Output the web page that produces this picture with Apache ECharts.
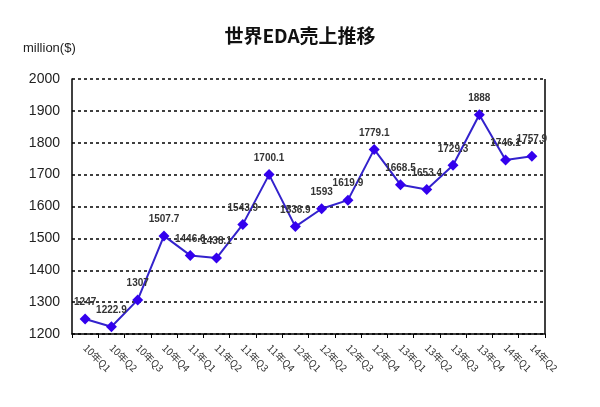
<!DOCTYPE html>
<html><head><meta charset="utf-8">
<script src="https://cdn.jsdelivr.net/npm/echarts@6/dist/echarts.min.js"></script>
<style>html,body{margin:0;padding:0;background:#fff}#c{width:600px;height:407px}</style>
</head><body><div id="c"></div>
<script>
const categories = ['10年Q1','10年Q2','10年Q3','10年Q4','11年Q1','11年Q2','11年Q3','11年Q4','12年Q1','12年Q2','12年Q3','12年Q4','13年Q1','13年Q2','13年Q3','13年Q4','14年Q1','14年Q2'];
const values = [1247,1222.9,1307,1507.7,1446.6,1438.1,1543.9,1700.1,1536.9,1593,1619.9,1779.1,1668.5,1653.4,1729.3,1888,1746.1,1757.9];
const yTicks = {min:1200, max:2000, interval:100};

const chart = echarts.init(document.getElementById('c'));
chart.setOption({
  animation:false,
  backgroundColor:'#fff',
  title:{text:'世界EDA売上推移', left:'center', top:21,
    textStyle:{fontSize:19, fontWeight:'bold', color:'#111', fontFamily:'Noto Sans CJK JP'}},
  graphic:[
    {type:'text', left:23, top:42, style:{text:'million($)', fontSize:13, fill:'#222', fontFamily:'Liberation Sans'}},
    {type:'line', shape:{x1:545, y1:79, x2:545, y2:334}, style:{stroke:'#000', lineWidth:1.5}}
  ],
  grid:{left:72, right:55, top:79, bottom:73},
  xAxis:{type:'category', data:categories, boundaryGap:true,
    axisLine:{lineStyle:{color:'#000', width:1.5}},
    axisTick:{show:true, length:4, lineStyle:{color:'#000'}},
    axisLabel:{rotate:-45, fontSize:10, color:'#333', margin:12, interval:0, fontFamily:'Noto Sans CJK JP'}},
  yAxis:{type:'value', min:yTicks.min, max:yTicks.max, interval:yTicks.interval,
    axisLine:{show:true, lineStyle:{color:'#000', width:1.5}},
    axisTick:{show:false},
    axisLabel:{fontSize:14, color:'#222', margin:12, fontFamily:'Liberation Sans', formatter:(v)=>String(v)},
    splitLine:{show:true, lineStyle:{color:'#000', type:[3,3], width:1.5}}},
  series:[{
    type:'line', data:values,
    symbol:'diamond', symbolSize:11,
    lineStyle:{color:'#3322cc', width:2},
    itemStyle:{color:'#3300ee'},
    label:{show:true, position:'top', distance:6, fontSize:10, fontWeight:'bold', color:'#333', fontFamily:'Liberation Sans'}
  }]
});
</script></body></html>
